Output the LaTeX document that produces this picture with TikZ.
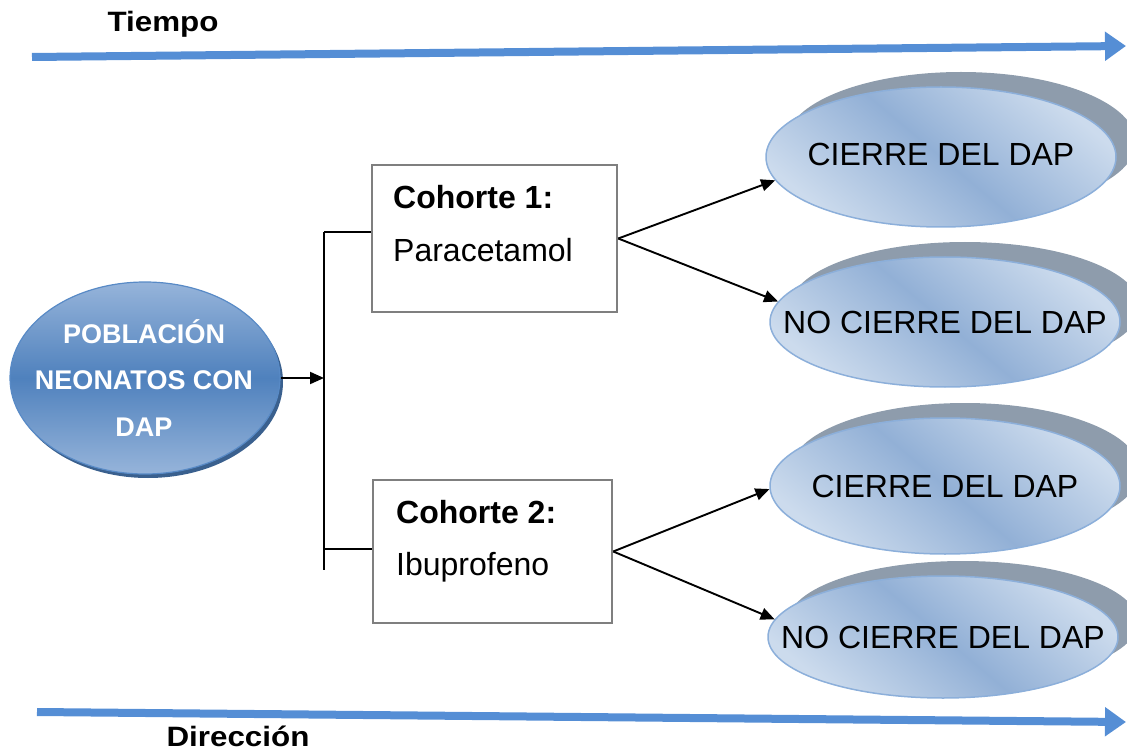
\documentclass[tikz,border=0pt]{standalone}
\usepackage{fontspec}
\setmainfont{Liberation Sans}
\newfontfamily\widefont[FakeStretch=1.12]{Liberation Sans}
\usetikzlibrary{shapes.geometric,arrows.meta}
\definecolor{timeblue}{RGB}{85,142,213}
\definecolor{boxgray}{RGB}{127,127,127}
\definecolor{lightblue}{RGB}{204,219,237}
\definecolor{midblue}{RGB}{146,176,214}
\definecolor{edgeblue}{RGB}{140,175,218}
\definecolor{shadowgray}{RGB}{142,156,172}
\definecolor{poplight}{RGB}{150,180,218}
\definecolor{popdark}{RGB}{79,129,189}
\definecolor{popedge}{RGB}{88,138,198}
\definecolor{popshadow}{RGB}{58,96,142}
\tikzset{
  timeline/.style={draw=timeblue, line width=8pt, -{Triangle[length=21pt,width=28pt]}},
  conn/.style={draw=black, line width=1.9pt},
  arr/.style={conn, -{Triangle[length=14pt,width=12pt]}},
  cbox/.style={rectangle, draw=boxgray, line width=2.5pt, fill=white, inner sep=0pt},
  boxtitle/.style={anchor=base west, inner sep=0pt, font=\bfseries\fontsize{32}{38}\selectfont},
  boxdrug/.style={anchor=base west, inner sep=0pt, font=\fontsize{32}{38}\selectfont},
  outcome/.style={ellipse, inner sep=0pt, minimum width=350pt, draw=edgeblue, line width=1.5pt,
    top color=lightblue, bottom color=lightblue, middle color=midblue, shading angle=-40,
    font=\fontsize{32}{38}\selectfont,
    preaction={fill=shadowgray, transform canvas={shift={(20pt,15pt)}}}},
  popnode/.style={ellipse, inner sep=0pt, minimum width=270pt, minimum height=192pt,
    draw=popedge, line width=1.2pt,
    top color=poplight, bottom color=poplight, middle color=popdark,
    preaction={fill=popshadow, transform canvas={shift={(3pt,-4pt)}}}},
  poptext/.style={text=white, align=center, inner sep=0pt, font=\bfseries\fontsize{27}{46.5}\selectfont},
  axislabel/.style={anchor=base, inner sep=0pt, font=\widefont\bfseries\fontsize{28}{32}\selectfont},
}
\begin{document}
\begin{tikzpicture}[x=1pt,y=-1pt]
\useasboundingbox (0,0) rectangle (1127,751);

% time / direction axes
\coordinate (t0) at (32,57);
\coordinate (t1) at (1126,46);
\coordinate (d0) at (37,712);
\coordinate (d1) at (1126,722);
\draw[timeline] (t0) -- (t1);
\draw[timeline] (d0) -- (d1);
\node[axislabel] (tiempo) at (163,32) {Tiempo};
\node[axislabel] (direccion) at (238,746) {Dirección};

% population
\node[popnode] (pop) at (145,378) {};
\node[poptext] (poplab) at (144,378) {POBLACIÓN\\NEONATOS CON\\DAP};

% cohort boxes
\node[cbox, minimum width=245pt, minimum height=147pt] (b1) at (494.5,238.5) {};
\node[cbox, minimum width=239pt, minimum height=143pt] (b2) at (492.5,551.5) {};
\node[boxtitle] (b1t) at (393,209) {Cohorte 1:};
\node[boxdrug] (b1d) at (393,262) {Paracetamol};
\node[boxtitle] (b2t) at (396,523) {Cohorte 2:};
\node[boxdrug] (b2d) at (396,575) {Ibuprofeno};

% outcomes
\node[outcome, minimum height=140pt] (c1) at (941,157) {\makebox[0pt]{\raisebox{5pt}{CIERRE DEL DAP}}};
\node[outcome, minimum height=130pt] (c2) at (945,322) {\makebox[0pt]{NO CIERRE DEL DAP}};
\node[outcome, minimum height=136pt] (c3) at (945,486) {\makebox[0pt]{CIERRE DEL DAP}};
\node[outcome, minimum height=122pt] (c4) at (943,637) {\makebox[0pt]{NO CIERRE DEL DAP}};

% branching connectors
\coordinate (jtop) at (324,232);
\coordinate (jbot) at (324,570);
\coordinate (jb2) at (324,549);
\draw[conn] (jtop) -- (jbot);
\draw[conn] (jtop) -- (jtop -| b1.west);
\draw[conn] (jb2) -- (jb2 -| b2.west);
\draw[arr] (pop.east) -- (pop.east -| jtop);

\draw[arr] (b1.east) -- (c1.188);
\draw[arr] (b1.east) -- (c2.173);
\draw[arr] (b2.east) -- (c3.181);
\draw[arr] (b2.east) -- (c4.174);
\end{tikzpicture}
\end{document}
